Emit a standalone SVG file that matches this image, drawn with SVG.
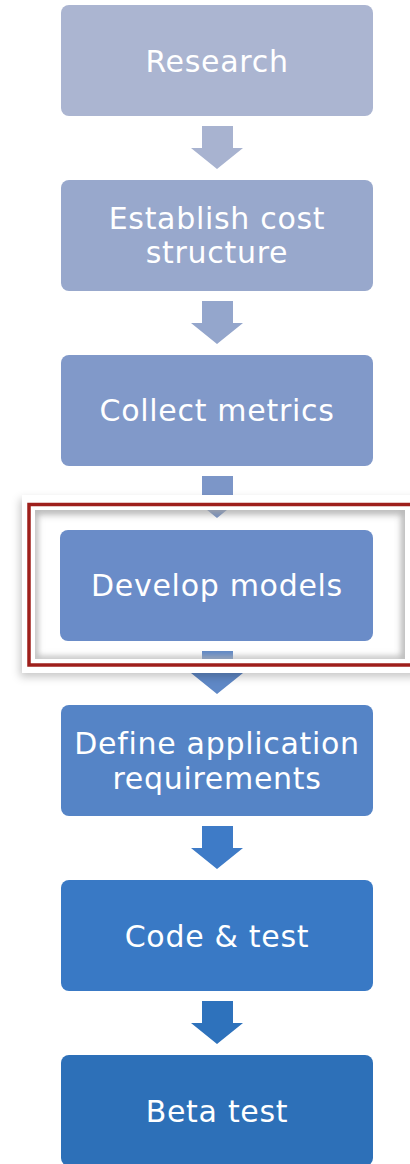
<svg xmlns="http://www.w3.org/2000/svg" width="410" height="1164" viewBox="0 0 410 1164">
  <defs>
    <style>
      .box { stroke: none; }
      .label { font-family: "DejaVu Sans", "Liberation Sans", sans-serif; font-size: 30px; letter-spacing: 0.7px; fill: #ffffff; text-anchor: middle; }
      .arrow { stroke: none; }
    </style>
    <filter id="panelShadow" x="-10%" y="-20%" width="120%" height="140%">
      <feDropShadow dx="-2" dy="4" stdDeviation="4" flood-color="#000000" flood-opacity="0.22"/>
    </filter>
    <filter id="softBlur" x="-10%" y="-10%" width="120%" height="120%">
      <feGaussianBlur stdDeviation="3"/>
    </filter>
    <clipPath id="focusWindow">
      <rect x="35" y="510" width="370" height="149"/>
    </clipPath>
  </defs>

  <rect x="0" y="0" width="410" height="1164" fill="#ffffff"/>

  <!-- process steps -->
  <g id="research">
    <rect class="box" x="61" y="5" width="312" height="111" rx="8" fill="#abb5d1"/>
    <text class="label" x="217" y="72">Research</text>
  </g>
  <g id="establish-cost-structure">
    <rect class="box" x="61" y="180" width="312" height="111" rx="8" fill="#98a8cc"/>
    <text class="label" x="217" y="229">Establish cost</text>
    <text class="label" x="217" y="263">structure</text>
  </g>
  <g id="collect-metrics">
    <rect class="box" x="61" y="355" width="312" height="111" rx="8" fill="#8199c9"/>
    <text class="label" x="217" y="421">Collect metrics</text>
  </g>
  <g id="define-application-requirements">
    <rect class="box" x="61" y="705" width="312" height="111" rx="8" fill="#5584c6"/>
    <text class="label" x="217" y="754">Define application</text>
    <text class="label" x="217" y="789">requirements</text>
  </g>
  <g id="code-and-test">
    <rect class="box" x="61" y="880" width="312" height="111" rx="8" fill="#3979c5"/>
    <text class="label" x="217" y="947">Code &amp; test</text>
  </g>
  <g id="beta-test">
    <rect class="box" x="61" y="1055" width="312" height="111" rx="8" fill="#2d70b8"/>
    <text class="label" x="217" y="1122">Beta test</text>
  </g>

  <!-- block arrows between steps -->
  <g id="connectors">
    <polygon class="arrow" fill="#a8b3d0" points="202,126 233,126 233,148 243,148 217,169 191,148 202,148"/>
    <polygon class="arrow" fill="#94a6cc" points="202,301 233,301 233,323 243,323 217,344 191,323 202,323"/>
    <polygon class="arrow" fill="#7c96c8" points="202,476 233,476 233,497 243,497 217,518 191,497 202,497"/>
    <polygon class="arrow" fill="#5f88c6" points="202,651 233,651 233,673 243,673 217,694 191,673 202,673"/>
    <polygon class="arrow" fill="#3e7bc7" points="202,826 233,826 233,848 243,848 217,869 191,848 202,848"/>
    <polygon class="arrow" fill="#2e72bc" points="202,1001 233,1001 233,1023 243,1023 217,1044 191,1023 202,1023"/>
  </g>

  <!-- highlight frame around the current step -->
  <g id="focus-frame">
    <path fill="#ffffff" fill-rule="evenodd" filter="url(#panelShadow)"
          d="M22,495 H420 V673 H22 Z M35,510 V659 H405 V510 Z"/>
    <rect x="29" y="504.5" width="400" height="160.5" fill="none" stroke="#9e1f1b" stroke-width="3.5"/>
    <g clip-path="url(#focusWindow)">
      <rect x="35" y="510" width="370" height="149" fill="none" stroke="#b4b4b4" stroke-width="5" filter="url(#softBlur)"/>
    </g>
  </g>

  <g id="develop-models">
    <rect class="box" x="60" y="530" width="313" height="111" rx="8" fill="#6a8cc8"/>
    <text class="label" x="217" y="596">Develop models</text>
  </g>
</svg>
